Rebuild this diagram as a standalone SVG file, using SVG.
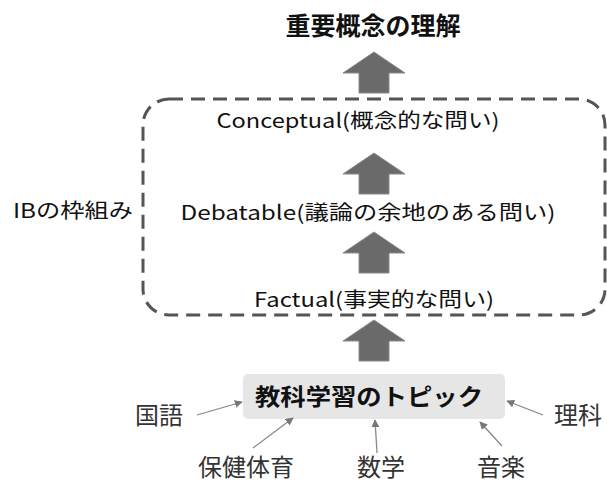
<svg xmlns="http://www.w3.org/2000/svg" width="607" height="482" viewBox="0 0 607 482">
<defs>
<style>
text{font-family:"Noto Sans CJK JP","Noto Sans",sans-serif;fill:#111}
.t{font-size:20px;text-anchor:middle}
.s{font-size:24px;text-anchor:middle;fill:#333}
.b{font-weight:bold;font-size:23px;text-anchor:middle}
.ar{fill:#6a6a6a;stroke:#8a8a8a;stroke-width:1}
.ln{stroke:#888;stroke-width:1.3;fill:none;marker-end:url(#h)}
</style>
<marker id="h" viewBox="0 0 10 10" refX="9" refY="5" markerWidth="8" markerHeight="8" orient="auto" markerUnits="userSpaceOnUse"><path d="M0,0L10,5L0,10z" fill="#777"/></marker>
<path id="up" d="M0,0L31,21L15,21L15,41L-15,41L-15,21L-31,21Z"/>
</defs>
<g id="frame"><rect x="143" y="99" width="462" height="216" rx="26" fill="none" stroke="#555" stroke-width="3" stroke-dasharray="14 8"/></g>
<g id="title"><text class="b" x="373" y="35" style="font-size:25px">重要概念の理解</text></g>
<g id="conceptual"><text class="t" x="358" y="128" textLength="283" lengthAdjust="spacingAndGlyphs">Conceptual(概念的な問い)</text></g>
<g id="debatable"><text class="t" x="368" y="220" textLength="375" lengthAdjust="spacingAndGlyphs">Debatable(議論の余地のある問い)</text></g>
<g id="factual"><text class="t" x="374" y="307" textLength="240" lengthAdjust="spacingAndGlyphs">Factual(事実的な問い)</text></g>
<g id="ib"><text class="t" x="73" y="218" textLength="120" lengthAdjust="spacingAndGlyphs">IBの枠組み</text></g>
<g id="topic"><rect x="243" y="374" width="262" height="45" rx="5" fill="#e6e6e6"/><text class="b" x="369" y="405" textLength="228" lengthAdjust="spacingAndGlyphs">教科学習のトピック</text></g>
<g id="kokugo"><text class="s" x="159" y="424">国語</text></g>
<g id="rika"><text class="s" x="578" y="424">理科</text></g>
<g id="hoken"><text class="s" x="246" y="476">保健体育</text></g>
<g id="sugaku"><text class="s" x="381" y="476">数学</text></g>
<g id="ongaku"><text class="s" x="501" y="476">音楽</text></g>
<g id="connectors">
<use href="#up" class="ar" x="374" y="52"/>
<use href="#up" class="ar" x="374" y="153"/>
<use href="#up" class="ar" x="374" y="232"/>
<use href="#up" class="ar" x="374" y="320"/>
<line class="ln" x1="197" y1="415" x2="242" y2="402"/>
<line class="ln" x1="543" y1="415" x2="507" y2="401"/>
<line class="ln" x1="253" y1="448" x2="293" y2="418"/>
<line class="ln" x1="377" y1="453" x2="375" y2="420"/>
<line class="ln" x1="502" y1="446" x2="480" y2="422"/>
</g>
</svg>
